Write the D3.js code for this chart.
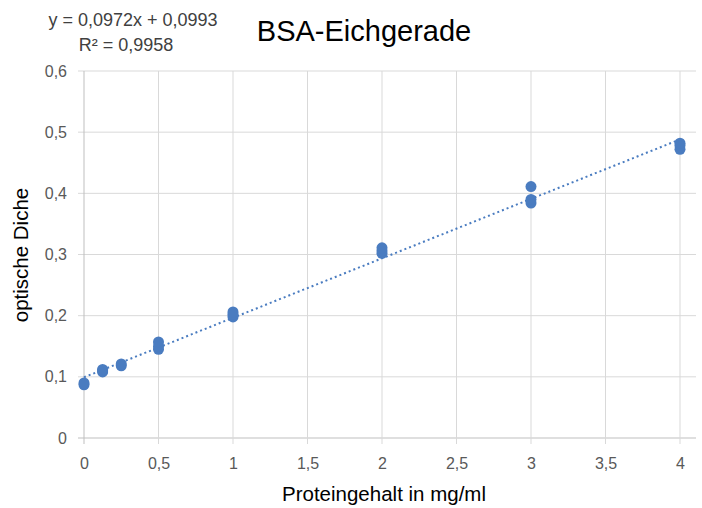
<!DOCTYPE html>
<html>
<head>
<meta charset="utf-8">
<script src="https://cdn.jsdelivr.net/npm/d3@7"></script>
<style>
  body { margin: 0; background: #fff; }
  svg { display: block; font-family: "Liberation Sans", Arial, sans-serif; }
</style>
</head>
<body>
<div id="chart"></div>
<script>
// Messwerte (Konzentration in mg/ml, optische Dichte)
var konzentration = [0, 0, 0.125, 0.125, 0.125, 0.25, 0.25, 0.5, 0.5, 0.5, 1, 1, 1, 2, 2, 2, 3, 3, 3, 4, 4, 4];
var extinktion    = [0.087, 0.090, 0.108, 0.110, 0.112, 0.118, 0.121, 0.145, 0.150, 0.157, 0.198, 0.202, 0.206, 0.302, 0.306, 0.311, 0.384, 0.390, 0.411, 0.472, 0.478, 0.482];

var xTicks = [0, 0.5, 1, 1.5, 2, 2.5, 3, 3.5, 4];
var yTicks = [0, 0.1, 0.2, 0.3, 0.4, 0.5, 0.6];

var steigung = 0.0972, achsenabschnitt = 0.0993;
var gleichung = "y = 0,0972x + 0,0993";
var bestimmtheit = "R² = 0,9958";

var width = 702, height = 508;
var blau = "#4a7cc0";

var fmt = function(v){ return String(v).replace(".", ","); };

var svg = d3.select("#chart").append("svg").attr("width", width).attr("height", height);

var x = d3.scaleLinear().domain([0, 4]).range([84, 680]);
var y = d3.scaleLinear().domain([0, 0.6]).range([438, 71]);

// Gitterlinien
svg.append("g").selectAll("line")
	.data(yTicks)
	.enter().append("line")
	.attr("x1", 78).attr("x2", 696)
	.attr("y1", function(d){ return y(d); })
	.attr("y2", function(d){ return y(d); })
	.attr("stroke", function(d){ return d === 0 ? "#bfbfbf" : "#d9d9d9"; })
	.attr("stroke-width", 1);

svg.append("g").selectAll("line")
	.data(xTicks)
	.enter().append("line")
	.attr("x1", function(d){ return x(d); })
	.attr("x2", function(d){ return x(d); })
	.attr("y1", 71).attr("y2", 444)
	.attr("stroke", function(d){ return d === 0 ? "#bfbfbf" : "#d9d9d9"; })
	.attr("stroke-width", 1);

// Achsen
var xAxis = d3.axisBottom(x).tickValues(xTicks).tickFormat(fmt).tickSize(0).tickPadding(20);
var yAxis = d3.axisLeft(y).tickValues(yTicks).tickFormat(fmt).tickSize(0).tickPadding(17);

var gx = svg.append("g").attr("transform", "translate(0,438)").call(xAxis);
var gy = svg.append("g").attr("transform", "translate(84,0)").call(yAxis);
[gx, gy].forEach(function(g){
	g.select(".domain").remove();
	g.selectAll("text").attr("fill", "#595959").style("font-size", "16px").style("font-family", "Liberation Sans, Arial, sans-serif");
});

// Trendlinie
svg.append("line")
	.attr("x1", x(0)).attr("y1", y(achsenabschnitt))
	.attr("x2", x(4)).attr("y2", y(steigung * 4 + achsenabschnitt))
	.attr("stroke", blau)
	.attr("stroke-width", 2)
	.attr("stroke-dasharray", "2,3");

// Punkte
svg.append("g").selectAll("circle")
	.data(d3.zip(konzentration, extinktion))
	.enter().append("circle")
	.attr("cx", function(d){ return x(d[0]); })
	.attr("cy", function(d){ return y(d[1]); })
	.attr("r", 5.5)
	.attr("fill", blau);

// Texte
svg.append("text").attr("x", 364).attr("y", 41).attr("text-anchor", "middle")
	.style("font-size", "29px").attr("fill", "#000").text("BSA-Eichgerade");

svg.append("text").attr("x", 133).attr("y", 26).attr("text-anchor", "middle")
	.style("font-size", "18px").attr("fill", "#404040").text(gleichung);
svg.append("text").attr("x", 126).attr("y", 51).attr("text-anchor", "middle")
	.style("font-size", "18px").attr("fill", "#404040").text(bestimmtheit);

svg.append("text").attr("x", 384).attr("y", 501).attr("text-anchor", "middle")
	.style("font-size", "20.5px").attr("fill", "#000").text("Proteingehalt in mg/ml");

svg.append("text").attr("transform", "translate(28,255) rotate(-90)").attr("text-anchor", "middle")
	.style("font-size", "20.5px").attr("fill", "#000").text("optische Diche");
</script>
</body>
</html>
